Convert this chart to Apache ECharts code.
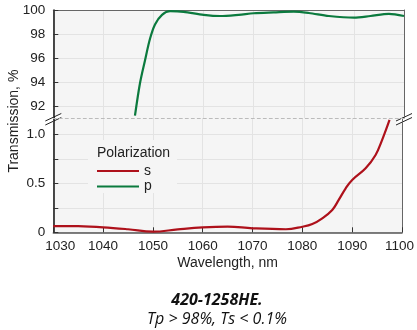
<!DOCTYPE html>
<html>
<head>
<meta charset="utf-8">
<script src="https://cdn.jsdelivr.net/npm/echarts@6/dist/echarts.min.js"></script>
<style>
  html, body { margin: 0; padding: 0; background: #fff; }
  #chart { width: 417px; height: 330px; }
</style>
</head>
<body>
<div id="chart"></div>
<script>
// p-polarization (upper panel, %)
const wavelengthP = [1046.3, 1047.3, 1048.3, 1049.3, 1050.3, 1051.7, 1053.3, 1056, 1060, 1063.3,
  1067, 1070, 1074, 1078, 1081, 1085, 1090, 1093.3, 1097, 1100];
const transP = [91.2, 93.9, 95.8, 97.6, 98.8, 99.6, 99.9, 99.85, 99.6, 99.5,
  99.6, 99.73, 99.8, 99.86, 99.75, 99.5, 99.36, 99.5, 99.68, 99.5];

// s-polarization (lower panel, %)
const wavelengthS = [1030, 1035, 1040, 1045, 1050, 1055, 1060, 1065, 1070, 1076.7,
  1080, 1082, 1084, 1086, 1087.3, 1088.7, 1090, 1092.7, 1094.7, 1096, 1097.5];
const transS = [0.064, 0.062, 0.051, 0.031, 0.006, 0.03, 0.05, 0.058, 0.041, 0.031,
  0.057, 0.085, 0.143, 0.228, 0.33, 0.449, 0.534, 0.653, 0.789, 0.94, 1.146];

const topTicks = [92, 94, 96, 98, 100];
const bottomTicks = [0, 0.25, 0.5, 0.75, 1.0];
const bottomLabels = [0, 0.5, 1.0];

const GREEN = '#0b7a3e';
const RED = '#ae111b';
const FONT = 'Liberation Sans, Arial, sans-serif';

// layout
const L = 53.3, R = 404, T = 10, BRK = 118, B = 232.3;

const chart = echarts.init(document.getElementById('chart'));

const gridLine = { show: true, lineStyle: { color: '#e3e3e3', width: 1 } };
const axisText = { color: '#222', fontSize: 13.5, fontFamily: FONT };

// "//" axis break marks
function breakMark(x) {
  return {
    type: 'group',
    z: 20,
    children: [
      { type: 'polygon', shape: { points: [[x - 8, 121], [x + 8, 113.5], [x + 8, 117.5], [x - 8, 125]] },
        style: { fill: '#fff' } },
      { type: 'line', shape: { x1: x - 8, y1: 121, x2: x + 8, y2: 113.5 },
        style: { stroke: '#222', lineWidth: 1 } },
      { type: 'line', shape: { x1: x - 8, y1: 125, x2: x + 8, y2: 117.5 },
        style: { stroke: '#222', lineWidth: 1 } }
    ]
  };
}

const option = {
  animation: false,
  title: {
    text: '420-1258HE.',
    subtext: 'Tp > 98%, Ts < 0.1%',
    left: 212,
    textAlign: 'center',
    top: 285,
    itemGap: -1,
    textStyle: { fontFamily: 'Open Sans', fontStyle: 'italic', fontWeight: 'bold', fontSize: 16, color: '#111', lineHeight: 20 },
    subtextStyle: { fontFamily: 'Open Sans', fontStyle: 'italic', fontWeight: 'normal', fontSize: 16, color: '#111', lineHeight: 20 }
  },
  legend: {
    data: ['s', 'p'],
    orient: 'vertical',
    left: 97,
    top: 164,
    padding: 0,
    itemGap: 1.6,
    itemWidth: 42,
    itemHeight: 2,
    icon: 'rect',
    textStyle: { fontSize: 14, fontFamily: FONT, color: '#222', lineHeight: 14 }
  },
  grid: [
    { left: L, top: T, width: R - L, height: BRK - T, show: true, borderWidth: 0, backgroundColor: '#f5f5f5' },
    { left: L, top: BRK, width: R - L, height: B - BRK, show: true, borderWidth: 0, backgroundColor: '#f5f5f5' }
  ],
  xAxis: [
    { gridIndex: 0, type: 'value', min: 1030, max: 1100, interval: 10, position: 'bottom',
      axisLine: { show: true, onZero: false, lineStyle: { color: '#bbb', type: [3, 3] } },
      axisTick: { show: false }, axisLabel: { show: false }, splitLine: gridLine },
    { gridIndex: 0, type: 'value', min: 1030, max: 1100, interval: 10, position: 'top',
      axisLine: { show: true, onZero: false, lineStyle: { color: '#666' } },
      axisTick: { show: false }, axisLabel: { show: false }, splitLine: { show: false } },
    { gridIndex: 1, type: 'value', min: 1030, max: 1100, interval: 10, position: 'bottom',
      name: 'Wavelength, nm', nameLocation: 'middle', nameGap: 24,
      nameTextStyle: { fontSize: 14, fontFamily: FONT, color: '#222' },
      axisLine: { show: true, onZero: false, lineStyle: { color: '#555', width: 1.5 } },
      axisTick: { show: true, inside: true, length: 5, lineStyle: { color: '#333' } },
      axisLabel: Object.assign({}, axisText, {
        margin: 7,
        formatter: v => v === 1030 ? '{first|1030}' : v === 1100 ? '{last|1100}' : String(v),
        rich: {
          first: { padding: [0, 0, 0, 14], fontSize: 13.5, fontFamily: FONT, color: '#222' },
          last: { padding: [0, 5, 0, 0], fontSize: 13.5, fontFamily: FONT, color: '#222' }
        }
      }),
      splitLine: gridLine }
  ],
  yAxis: [
    { gridIndex: 0, type: 'value', min: 91, max: 100, position: 'left',
      axisLine: { show: true, onZero: false, lineStyle: { color: '#111', width: 1.5 } },
      axisTick: { show: true, inside: true, length: 5, customValues: topTicks, lineStyle: { color: '#333' } },
      axisLabel: Object.assign({}, axisText, { margin: 8, customValues: topTicks }),
      splitLine: gridLine },
    { gridIndex: 0, type: 'value', min: 91, max: 100, position: 'right',
      axisLine: { show: true, onZero: false, lineStyle: { color: '#666' } },
      axisTick: { show: false }, axisLabel: { show: false }, splitLine: { show: false } },
    { gridIndex: 1, type: 'value', min: 0, max: 1.166, position: 'left',
      axisLine: { show: true, onZero: false, lineStyle: { color: '#111', width: 1.5 } },
      axisTick: { show: true, inside: true, length: 5, customValues: bottomTicks, lineStyle: { color: '#333' } },
      axisLabel: Object.assign({}, axisText, {
        margin: 8, customValues: bottomLabels,
        formatter: v => v === 1 ? '1.0' : String(v)
      }),
      splitLine: gridLine },
    { gridIndex: 1, type: 'value', min: 0, max: 1.166, position: 'right',
      axisLine: { show: true, onZero: false, lineStyle: { color: '#666' } },
      axisTick: { show: false }, axisLabel: { show: false }, splitLine: { show: false } }
  ],
  series: [
    { name: 's', type: 'line', xAxisIndex: 2, yAxisIndex: 2, symbol: 'none', smooth: 0.4,
      color: RED, lineStyle: { width: 2.2, color: RED },
      data: wavelengthS.map((w, i) => [w, transS[i]]) },
    { name: 'p', type: 'line', xAxisIndex: 0, yAxisIndex: 0, symbol: 'none', smooth: 0.3,
      color: GREEN, lineStyle: { width: 2.2, color: GREEN },
      data: wavelengthP.map((w, i) => [w, transP[i]]) }
  ],
  graphic: [
    { type: 'rect', z: 1, shape: { x: 88, y: 140, width: 89, height: 53 }, style: { fill: '#f5f5f5' } },
    { type: 'text', z: 5, x: 97, y: 153.5,
      style: { text: 'Polarization', fontSize: 14, fontFamily: FONT, fill: '#222', verticalAlign: 'middle' } },
    { type: 'text', z: 5, x: 14, y: (T + B) / 2, rotation: Math.PI / 2,
      style: { text: 'Transmission, %', fontSize: 14, fontFamily: FONT, fill: '#222', align: 'center', verticalAlign: 'middle' } },
    breakMark(L),
    breakMark(R)
  ]
};

chart.setOption(option);
window.addEventListener('resize', () => chart.resize());
</script>
</body>
</html>
